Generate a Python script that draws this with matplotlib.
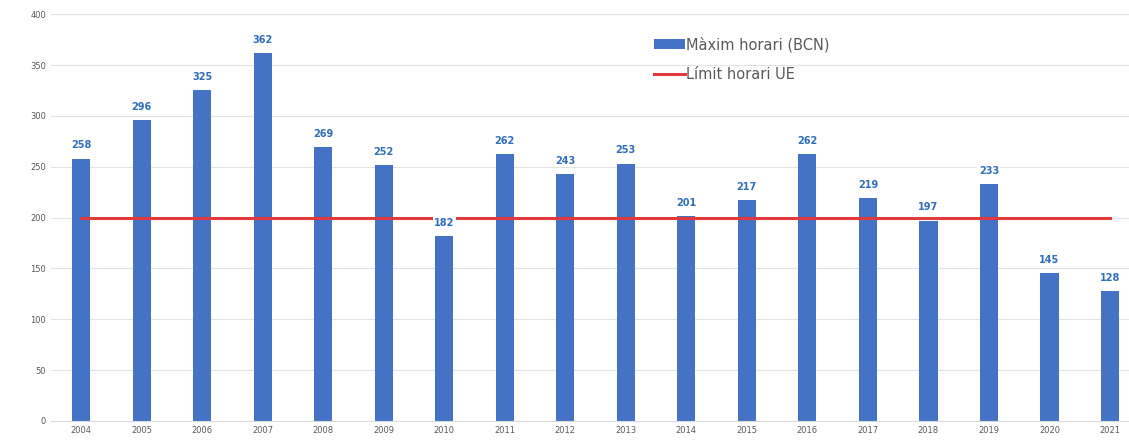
import matplotlib
matplotlib.use("Agg")
from matplotlib import pyplot as plt

# data
years = ['2004', '2005', '2006', '2007', '2008', '2009', '2010', '2011', '2012',
         '2013', '2014', '2015', '2016', '2017', '2018', '2019', '2020', '2021']
max_hourly = [258, 296, 325, 362, 269, 252, 182, 262, 243,
              253, 201, 217, 262, 219, 197, 233, 145, 128]
eu_limit = [200] * len(years)
y_ticks = [0, 50, 100, 150, 200, 250, 300, 350, 400]

bar_color = '#4472C4'
line_color = '#E0393E'
label_color = '#2F6EBA'

fig = plt.figure(figsize=(11.29, 4.43), dpi=100)
ax = fig.add_axes([0.045, 0.05, 0.965, 0.918])

x = list(range(len(years)))
bars = ax.bar(x, max_hourly, width=0.3, color=bar_color, zorder=2,
              label='Màxim horari (BCN)')
line, = ax.plot(x, eu_limit, color=line_color, linewidth=2.2, zorder=3,
                label='Límit horari UE')

# value labels above bars
for xi, v in zip(x, max_hourly):
    ax.text(xi, v + 8, str(v), ha='center', va='bottom', fontsize=7,
            fontweight='bold', color=label_color, zorder=4,
            bbox=dict(facecolor='white', edgecolor='none', pad=1))

ax.set_xlim(-0.5, len(years) - 0.5)
ax.set_ylim(0, 400)
ax.set_yticks(y_ticks)
ax.set_xticks(x)
ax.set_xticklabels(years)
ax.tick_params(axis='both', labelsize=6, colors='#595959', length=0)
ax.grid(axis='y', color='#E3E3E3', linewidth=0.8, zorder=0)
for s in ['top', 'right', 'left']:
    ax.spines[s].set_visible(False)
ax.spines['bottom'].set_color('#D9D9D9')

leg = ax.legend([bars, line], ['Màxim horari (BCN)', 'Límit horari UE'],
                loc='upper left', bbox_to_anchor=(0.554, 0.945), frameon=False,
                fontsize=10.5, labelcolor='#595959', handlelength=2.1,
                handletextpad=0.1, labelspacing=1.05, borderpad=0,
                borderaxespad=0)

plt.savefig('out.png', dpi=100)
